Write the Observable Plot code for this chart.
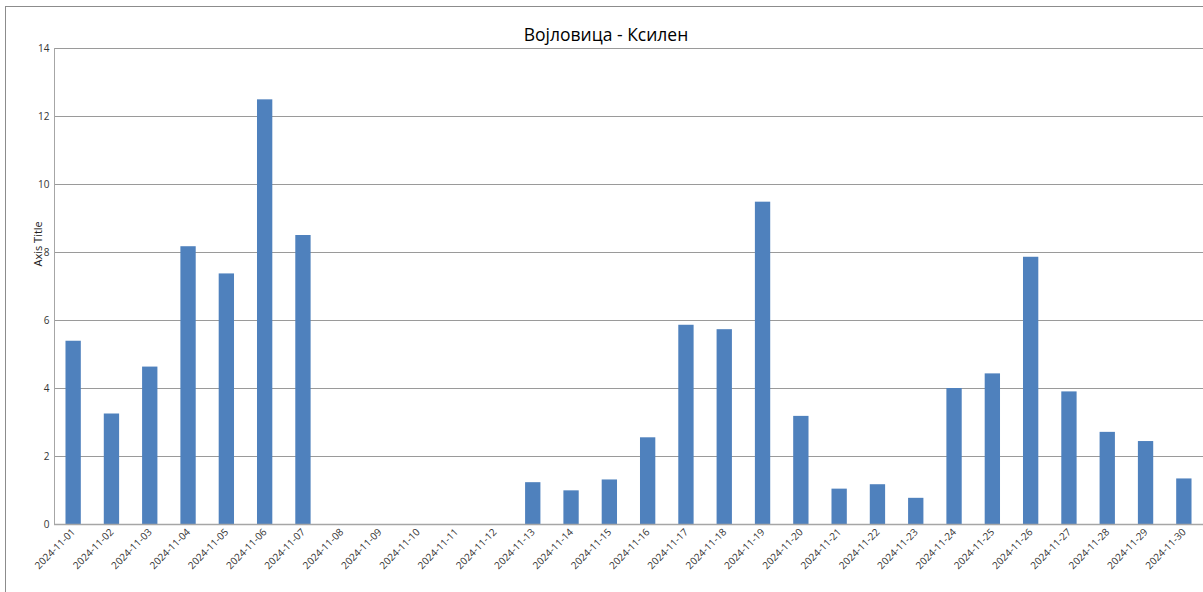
<!DOCTYPE html>
<html>
<head>
<meta charset="utf-8">
<script src="https://cdn.jsdelivr.net/npm/d3@7"></script>
<script src="https://cdn.jsdelivr.net/npm/@observablehq/plot@0.6"></script>
<style>
  html, body { margin: 0; padding: 0; background: #fff; }
  #wrap { position: relative; width: 1203px; height: 592px; overflow: hidden; }
  #border { position: absolute; left: 5px; top: 6px; width: 1300px; height: 700px;
            border-left: 1px solid #8c8c8c; border-top: 1px solid #8c8c8c; pointer-events: none; }
  #chart { position: absolute; left: 0; top: 0; }
</style>
</head>
<body>
<div id="wrap"><div id="chart"></div><div id="border"></div></div>
<script>
const title = "Војловица - Ксилен";
const yLabel = "Axis Title";
const dates = [
  "2024-11-01","2024-11-02","2024-11-03","2024-11-04","2024-11-05","2024-11-06",
  "2024-11-07","2024-11-08","2024-11-09","2024-11-10","2024-11-11","2024-11-12",
  "2024-11-13","2024-11-14","2024-11-15","2024-11-16","2024-11-17","2024-11-18",
  "2024-11-19","2024-11-20","2024-11-21","2024-11-22","2024-11-23","2024-11-24",
  "2024-11-25","2024-11-26","2024-11-27","2024-11-28","2024-11-29","2024-11-30"
];
const values = [
  5.39, 3.25, 4.63, 8.17, 7.37, 12.49,
  8.50, null, null, null, null, null,
  1.23, 0.99, 1.31, 2.55, 5.86, 5.73,
  9.48, 3.18, 1.04, 1.17, 0.77, 4.00,
  4.43, 7.86, 3.90, 2.71, 2.44, 1.34
];
const yTicks = [0, 2, 4, 6, 8, 10, 12, 14];

const data = dates.map((d, i) => ({date: d, value: values[i]})).filter(d => d.value != null);

const chart = Plot.plot({
  width: 1203,
  height: 592,
  marginTop: 48,
  marginLeft: 54,
  marginRight: 0,
  marginBottom: 68,
  style: {fontFamily: "'Open Sans', 'Noto Sans', sans-serif", fontSize: "10px", color: "#333", background: "transparent"},
  x: {type: "band", domain: dates, paddingInner: 0.6, paddingOuter: 0.3, round: false},
  y: {domain: [0, 14]},
  marks: [
    Plot.gridY(yTicks, {stroke: "#9a9a9a", strokeOpacity: 1, strokeWidth: 1}),
    Plot.barY(data, {x: "date", y: "value", fill: "#4f81bd"}),
    Plot.ruleY([0], {stroke: "#a6a6a6", strokeWidth: 1.5}),
    Plot.axisY({ticks: yTicks, tickSize: 0, tickPadding: 5, label: null, fontSize: 10}),
    Plot.axisX({tickSize: 0, tickPadding: 6, tickRotate: -45, label: null, fontSize: 10}),
    Plot.frame({anchor: "left", stroke: "#a6a6a6", strokeWidth: 1}),
    Plot.text([title], {frameAnchor: "top", dy: -20, dx: -23, fontSize: 17.5, fill: "#000"}),
    Plot.text([yLabel], {frameAnchor: "left", rotate: -90, dx: -16, dy: -20, fontSize: 11, fill: "#222"})
  ]
});
document.getElementById("chart").appendChild(chart);
</script>
</body>
</html>
